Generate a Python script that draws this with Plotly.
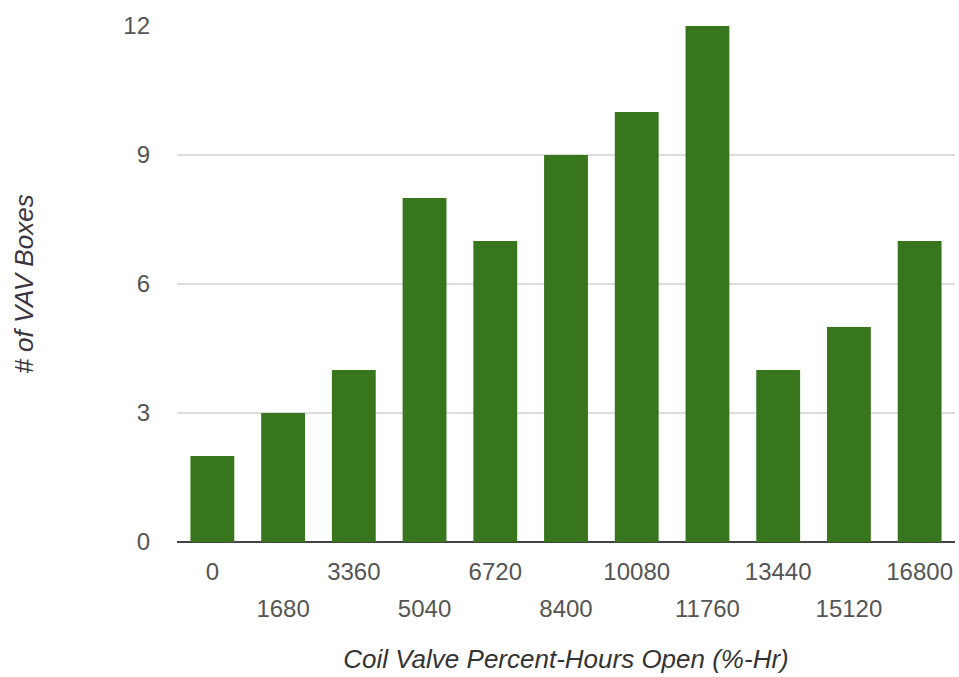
import plotly.graph_objects as go

# Histogram bins (coil valve percent-hours open) and box counts
bin_starts = [0, 1680, 3360, 5040, 6720, 8400, 10080, 11760, 13440, 15120, 16800]
box_counts = [2, 3, 4, 8, 7, 9, 10, 12, 4, 5, 7]
y_ticks = [0, 3, 6, 9, 12]

bin_width = bin_starts[1] - bin_starts[0]
x_range = [bin_starts[0] - bin_width / 2, bin_starts[-1] + bin_width / 2]

upper_row = bin_starts[0::2]
lower_row = bin_starts[1::2]

FONT = "Liberation Sans, Arial, sans-serif"
TICK_FONT = dict(family=FONT, size=24, color="#555555")

fig = go.Figure()
fig.add_trace(go.Bar(
    x=bin_starts,
    y=box_counts,
    marker=dict(color="#38761d", line=dict(width=0)),
    hoverinfo="x+y",
))
# helper trace so the second (staggered-label) axis gets drawn
fig.add_trace(go.Scatter(
    x=[bin_starts[0]], y=[0], xaxis="x2", mode="markers",
    marker=dict(opacity=0), hoverinfo="skip", showlegend=False,
))

fig.update_layout(
    width=959,
    height=677,
    margin=dict(l=177, r=4, t=26, b=135),
    paper_bgcolor="white",
    plot_bgcolor="white",
    showlegend=False,
    bargap=0.38,
    xaxis=dict(
        range=x_range,
        tickmode="array",
        tickvals=upper_row,
        ticktext=[str(v) for v in upper_row],
        tickfont=TICK_FONT,
        ticks="",
        ticklabelstandoff=13,
        showgrid=False,
        zeroline=False,
        showline=False,
        title=dict(
            text="<i>Coil Valve Percent-Hours Open (%-Hr)</i>",
            font=dict(family=FONT, size=26, color="#333333"),
            standoff=65,
        ),
    ),
    xaxis2=dict(
        overlaying="x",
        anchor="y",
        side="bottom",
        range=x_range,
        tickmode="array",
        tickvals=lower_row,
        ticktext=[str(v) for v in lower_row],
        tickfont=TICK_FONT,
        ticks="",
        ticklabelstandoff=50,
        showgrid=False,
        zeroline=False,
        showline=False,
    ),
    yaxis=dict(
        range=[0, 12],
        tickmode="array",
        tickvals=y_ticks,
        tickfont=TICK_FONT,
        ticks="",
        ticklabelstandoff=26,
        showgrid=True,
        gridcolor="#dddddd",
        gridwidth=2,
        zeroline=True,
        zerolinecolor="#444444",
        zerolinewidth=2,
        showline=False,
        title=dict(
            text="<i># of VAV Boxes</i>",
            font=dict(family=FONT, size=26, color="#3a3340"),
            standoff=82,
        ),
    ),
)

fig.write_html("out.html")
